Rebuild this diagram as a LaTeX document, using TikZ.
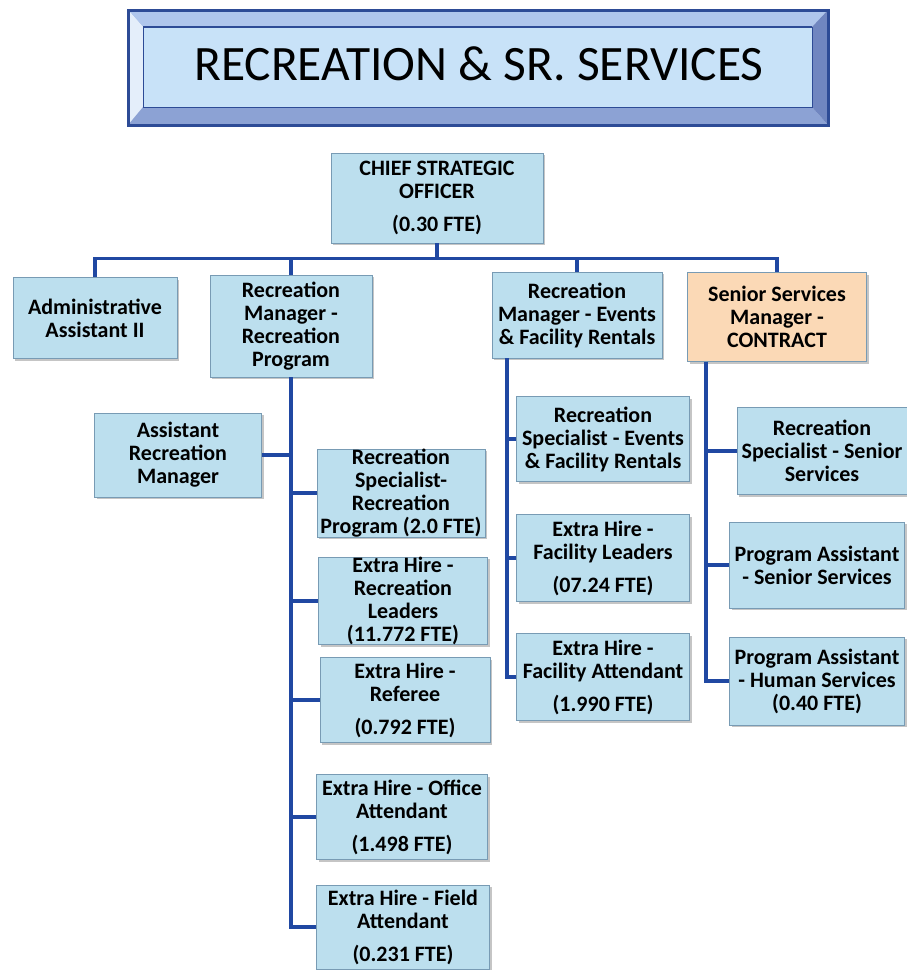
\documentclass[tikz,border=0pt]{standalone}
\usepackage{fontspec}
\setmainfont{Carlito}
\usetikzlibrary{positioning, shadows}

\definecolor{boxblue}{RGB}{188,223,238}
\definecolor{boxline}{RGB}{120,155,180}
\definecolor{peach}{RGB}{251,217,182}
\definecolor{linkblue}{RGB}{32,72,162}
\definecolor{rimdark}{RGB}{45,75,150}
\definecolor{facecol}{RGB}{200,226,248}
\definecolor{bevtop}{RGB}{175,198,236}
\definecolor{bevleft}{RGB}{228,238,250}
\definecolor{bevbot}{RGB}{140,162,212}
\definecolor{bevright}{RGB}{112,134,192}

\tikzset{
  box/.style={draw=boxline, fill=boxblue, line width=0.8pt, align=center,
    inner sep=0pt, font=\bfseries\fontsize{22}{23}\selectfont,
    drop shadow={shadow xshift=2pt, shadow yshift=-2pt, fill=black!45, opacity=.5}},
  sz/.style 2 args={minimum width=#1pt, minimum height=#2pt},
  conn/.style={draw=linkblue, line width=3.8pt}
}

\begin{document}
\begin{tikzpicture}[x=1pt, y=-1pt]
  \useasboundingbox (0,0) rectangle (907,970);

  \fill[bevtop] (128,10) -- (828,10) -- (812,27) -- (143,27) -- cycle;
  \fill[bevleft] (128,10) -- (143,27) -- (143,107) -- (128,125) -- cycle;
  \fill[bevbot] (128,125) -- (143,107) -- (812,107) -- (828,125) -- cycle;
  \fill[bevright] (828,10) -- (812,27) -- (812,107) -- (828,125) -- cycle;
  \draw[rimdark, fill=facecol, line width=0.8pt] (143,27) rectangle (812,107);
  \draw[rimdark, line width=1.8pt] (143,27) -- (812,27);
  \draw[rimdark, line width=3pt] (128,10) rectangle (828,125);
  \node[anchor=base, font=\fontsize{49.5}{52}\selectfont] (title) at (479,80) {RECREATION \& SR. SERVICES};

  \node[box, sz={212}{90}] (chief) at (437,198) {CHIEF STRATEGIC\\OFFICER\\[10pt](0.30 FTE)};

  \node[box, sz={164}{81}] (admin) at (95,318) {Administrative\\Assistant II};
  \node[box, sz={162}{102}] (rmrec) at (291,326) {Recreation\\Manager -\\Recreation\\Program};
  \node[box, sz={170}{86}] (rmev) at (577,315) {Recreation\\Manager - Events\\\& Facility Rentals};
  \node[box, sz={179}{89}, fill=peach] (senior) at (777,317) {Senior Services\\Manager -\\CONTRACT};

  \node[box, sz={167}{84}] (asst) at (178,455) {Assistant\\Recreation\\Manager};
  \node[box, sz={168}{83}] (rsprog) at (401,493) {Recreation\\Specialist-\\Recreation\\Program (2.0 FTE)};
  \node[box, sz={169}{87}] (leaders) at (403,601) {Extra Hire -\\Recreation\\Leaders\\(11.772 FTE)};
  \node[box, sz={170}{85}] (referee) at (405,700) {Extra Hire -\\Referee\\[10pt](0.792 FTE)};
  \node[box, sz={171}{85}] (office) at (402,817) {Extra Hire - Office\\Attendant\\[10pt](1.498 FTE)};
  \node[box, sz={173}{84}] (field) at (403,927) {Extra Hire - Field\\Attendant\\[10pt](0.231 FTE)};

  \node[box, sz={173}{85}] (spev) at (603,439) {Recreation\\Specialist - Events\\\& Facility Rentals};
  \node[box, sz={173}{87}] (facl) at (603,558) {Extra Hire -\\Facility Leaders\\[10pt](07.24 FTE)};
  \node[box, sz={173}{87}] (facat) at (603,677) {Extra Hire -\\Facility Attendant\\[10pt](1.990 FTE)};

  \node[box, sz={170}{87}] (spsen) at (822,451) {Recreation\\Specialist - Senior\\Services};
  \node[box, sz={175}{86}] (pasen) at (817,565) {Program Assistant\\- Senior Services};
  \node[box, sz={175}{88}] (pahum) at (817,681) {Program Assistant\\- Human Services\\(0.40 FTE)};

  \draw[conn] (chief.south) -- ++(0,15) -| (admin.north);
  \draw[conn] (chief.south) -- ++(0,15) -| (rmrec.north);
  \draw[conn] (chief.south) -- ++(0,15) -| (rmev.north);
  \draw[conn] (chief.south) -- ++(0,15) -| (senior.north);

  \draw[conn] (rmrec.south) |- (asst.east);
  \draw[conn] (rmrec.south) |- (rsprog.west);
  \draw[conn] (rmrec.south) |- (leaders.west);
  \draw[conn] (rmrec.south) |- (referee.west);
  \draw[conn] (rmrec.south) |- (office.west);
  \draw[conn] (rmrec.south) |- (field.west);

  \draw[conn] ([xshift=15pt]rmev.south west) |- (spev.west);
  \draw[conn] ([xshift=15pt]rmev.south west) |- (facl.west);
  \draw[conn] ([xshift=15pt]rmev.south west) |- (facat.west);

  \draw[conn] ([xshift=19pt]senior.south west) |- (spsen.west);
  \draw[conn] ([xshift=19pt]senior.south west) |- (pasen.west);
  \draw[conn] ([xshift=19pt]senior.south west) |- (pahum.west);
\end{tikzpicture}
\end{document}
